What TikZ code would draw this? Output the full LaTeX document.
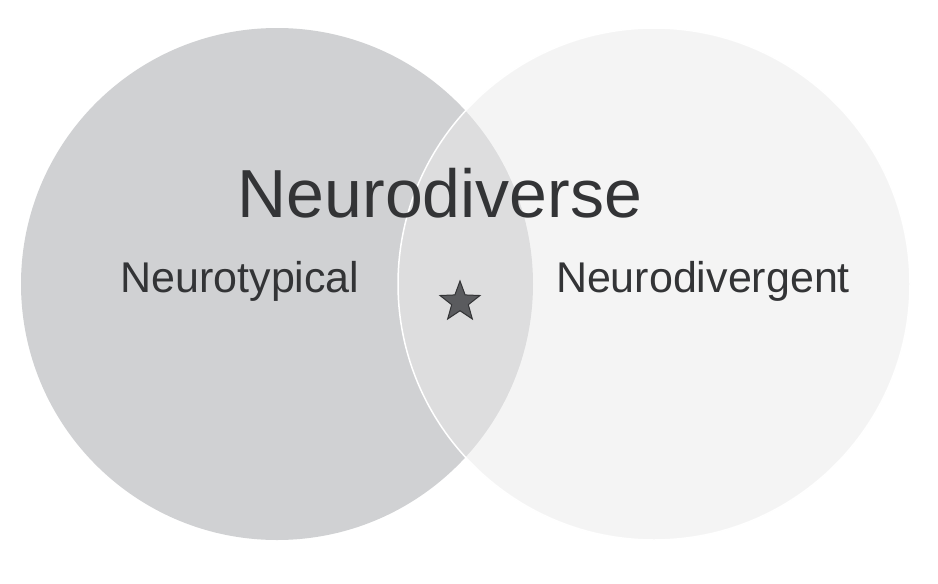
\documentclass[tikz,border=0pt]{standalone}
\usepackage{fontspec}
\setmainfont{Liberation Sans}
\usetikzlibrary{shapes.geometric}
\definecolor{leftgray}{HTML}{D0D1D3}
\definecolor{rightgray}{HTML}{EAEAEA}
\definecolor{textgray}{HTML}{333436}
\definecolor{stargray}{HTML}{5A5B5E}

\begin{document}
\begin{tikzpicture}[x=1pt, y=-1pt,
    group/.style={circle, minimum size=512pt, inner sep=0, outer sep=0},
    label/.style={text=textgray, inner sep=0, anchor=base},
    mark star/.style={star, star points=5, star point ratio=2.4, minimum size=42pt,
      inner sep=0, fill=stargray, draw=textgray, line width=1pt}
  ]
    \useasboundingbox (0,0) rectangle (938,584);
    % the two sets
    \node[group, fill=leftgray] (NT) at (277,284) {};
    \node[group, fill=rightgray, fill opacity=0.5, draw=white, line width=1.5pt] (ND) at (654,284) {};
    % labels
    \node[label, font=\fontsize{43}{43}\selectfont] (nt) at (240,292) {Neurotypical};
    \node[label, font=\fontsize{43}{43}\selectfont] (nd) at (703,292) {Neurodivergent};
    \node[label, font=\fontsize{68}{68}\selectfont] (all) at (440,217) {Neurodiverse};
    \node[mark star] (both) at (460,302) {};
\end{tikzpicture}
\end{document}
